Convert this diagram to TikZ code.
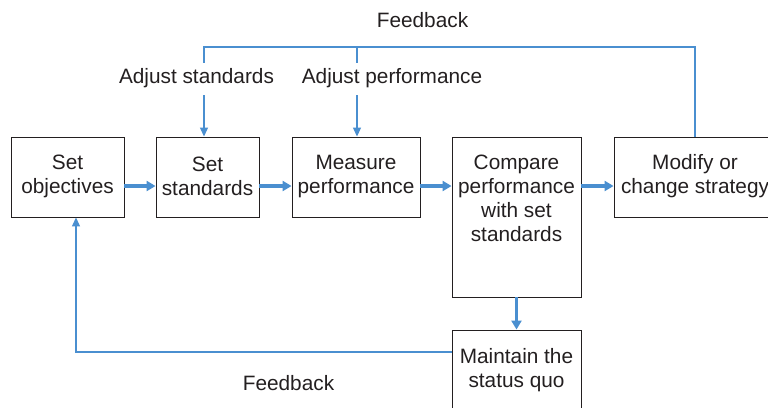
\documentclass[tikz,border=0pt]{standalone}
\usepackage{fontspec}
\setmainfont{Liberation Sans}
\usetikzlibrary{arrows.meta}
\definecolor{fblue}{RGB}{74,143,208}
\definecolor{ink}{RGB}{35,31,32}
\tikzset{
  box/.style={draw=ink, line width=0.9pt, rectangle, inner sep=0pt},
  txt/.style={text=ink, align=center, inner sep=0pt, font=\fontsize{20.8}{24}\selectfont},
  thick arrow/.style={draw=fblue, line width=3.6pt, -{Triangle[length=9pt,width=10pt]}},
  thin line/.style={draw=fblue, line width=1.2pt},
  thin arrow/.style={draw=fblue, line width=1.2pt, -{Triangle[length=9pt,width=8pt]}}
}
\begin{document}
\begin{tikzpicture}[x=1pt,y=-1pt]
\useasboundingbox (0,0) rectangle (768,407);
\clip (0,0) rectangle (768,407);
% boxes
\node[box, minimum width=113pt, minimum height=80pt] (obj) at (67.5,177) {};
\node[box, minimum width=103pt, minimum height=80pt] (std) at (207.5,177) {};
\node[box, minimum width=128pt, minimum height=80pt] (mea) at (356,177) {};
\node[box, minimum width=129pt, minimum height=160pt] (cmp) at (516.5,217) {};
\node[box, minimum width=162pt, minimum height=80pt] (mod) at (695,177) {};
\node[box, minimum width=129pt, minimum height=80pt] (sq) at (516.5,370) {};
% texts
\node[txt] (tobj) at (67.5,176) {Set\\objectives};
\node[txt] (tstd) at (207.5,176) {Set\\standards};
\node[txt] (tmea) at (356,176) {Measure\\performance};
\node[txt, anchor=north] (tcmp) at (516.5,155) {Compare\\performance\\with set\\standards};
\node[txt] (tmod) at (695,176) {Modify or\\change strategy};
\node[txt] (tsq) at (516.5,370) {Maintain the\\status quo};
\node[txt] (fbtop) at (422.5,20) {Feedback};
\node[txt] (adjs) at (196.5,78) {Adjust standards};
\node[txt] (adjp) at (392,78) {Adjust performance};
\node[txt] (fbbot) at (288.5,383) {Feedback};
% thick arrows
\draw[thick arrow] (obj.east |- 0,186) -- (std.west |- 0,186);
\draw[thick arrow] (std.east |- 0,186) -- (mea.west |- 0,186);
\draw[thick arrow] (mea.east |- 0,186) -- (cmp.west |- 0,186);
\draw[thick arrow] (cmp.east |- 0,186) -- (mod.west |- 0,186);
\draw[thick arrow] (cmp.south) -- (sq.north);
% top feedback
\coordinate (c1) at (204,47);
\coordinate (c2) at (357,47);
\coordinate (c1e) at (204,63);
\coordinate (c2e) at (357,63);
\coordinate (a1s) at (204,95);
\coordinate (a2s) at (357,95);
\draw[thin line] (mod.north) |- (c1) -- (c1e);
\draw[thin line] (c2) -- (c2e);
\draw[thin arrow] (a1s) -- (std.north -| a1s);
\draw[thin arrow] (a2s) -- (mea.north -| a2s);
% bottom feedback
\coordinate (b1) at (76,352);
\draw[thin arrow] (sq.west |- b1) -- (b1) -- (obj.south -| b1);
\end{tikzpicture}
\end{document}
